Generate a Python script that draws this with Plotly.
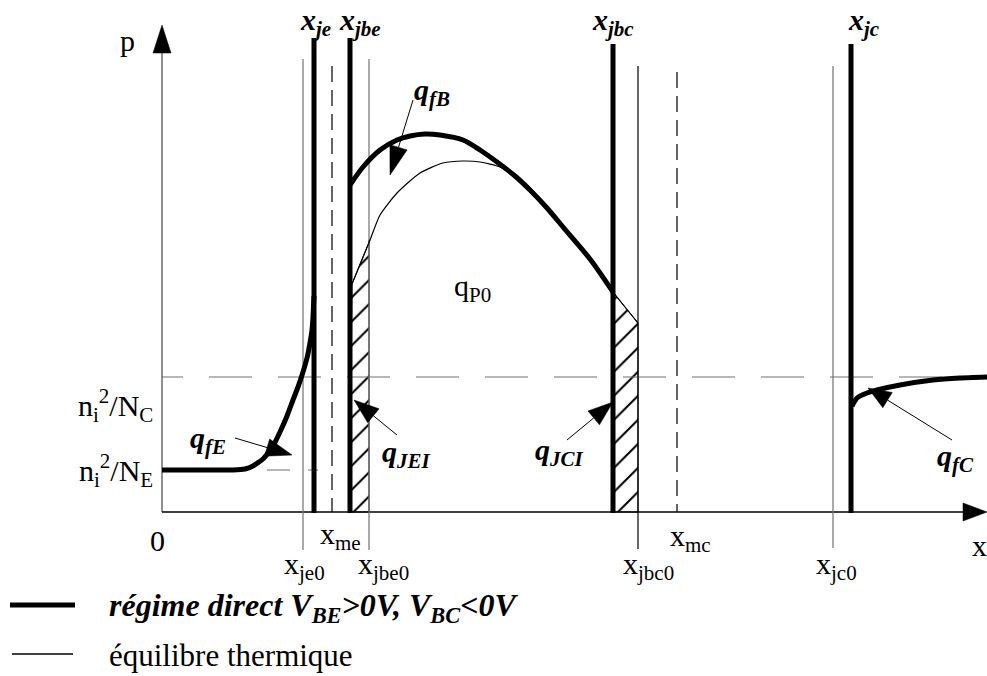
import numpy as np
import plotly.graph_objects as go

W, H = 987, 676
SERIF = "Liberation Serif"

# ---------------- data (schematic coordinates, picture units) ----------------
axis_origin = [162, 512]          # x of p-axis, y of x-axis
p_axis_top = 53
x_axis_end = 963
p_arrow_tip = [162, 25]
x_arrow_tip = [987, 512]

thick_x = [314, 350, 613, 851]     # x_je, x_jbe, x_jbc, x_jc
thick_top = [38, 38, 44, 44]
thin_x = [303, 369, 638, 833]      # x_je0, x_jbe0, x_jbc0, x_jc0
thin_top = [59, 59, 66, 66]
thin_bottom = [550, 550, 549, 548]
thin_gray = [True, True, False, True]
dash_x = [332, 677]                # x_me, x_mc
dash_top = [66, 72]

level_NC = 377
level_NE = 470
level_NE_x = [267, 318]

qfE_x = [162, 233, 245, 253, 263, 272, 280, 287, 293, 298, 303, 307, 310, 312, 313, 314]
qfE_y = [470, 470, 469, 466, 459, 448, 432, 416, 400, 387, 372, 358, 343, 330, 317, 296]

qfB_x = [350, 363, 380, 397, 410, 425, 440, 463, 480, 497, 515, 530, 547, 563, 590, 613]
qfB_y = [185, 167, 150, 140, 136, 134, 135, 140, 150, 162, 176, 190, 208, 227, 259, 292]

eq_x = [352, 361, 370, 380, 397, 420, 443, 463, 480, 500, 515, 530, 547, 563, 590, 613, 638]
eq_y = [284, 262, 240, 215, 193, 173, 163, 161, 162, 167, 177, 190, 208, 227, 259, 292, 323]

qfC_x = [852, 857, 867, 877, 900, 933, 960, 987]
qfC_y = [406, 398, 393, 390, 385, 380, 378, 377]

# arrows: tail, tip
arrow_tail = [(413, 100), (235, 438), (397, 435), (567, 440), (952, 440)]
arrow_tip = [(390, 175), (292, 455), (354, 400), (613, 402), (868, 388)]
arrow_len = [29, 26, 25, 25, 23]

# text labels
labels = [
    ("p", 127, 40),
    ("<b><i>x<sub>je</sub></i></b>", 315, 22),
    ("<b><i>x<sub>jbe</sub></i></b>", 360, 22),
    ("<b><i>x<sub>jbc</sub></i></b>", 613, 22),
    ("<b><i>x<sub>jc</sub></i></b>", 864, 22),
    ("<b><i>q<sub>fB</sub></i></b>", 432, 92),
    ("q<sub>P0</sub>", 472, 288),
    ("<b><i>q<sub>fE</sub></i></b>", 208, 440),
    ("<b><i>q<sub>JEI</sub></i></b>", 406, 454),
    ("<b><i>q<sub>JCI</sub></i></b>", 559, 452),
    ("<b><i>q<sub>fC</sub></i></b>", 955, 458),
    ("0", 157, 540),
    ("x<sub>me</sub>", 340, 536),
    ("x<sub>je0</sub>", 304, 566),
    ("x<sub>jbe0</sub>", 383, 566),
    ("x<sub>mc</sub>", 690, 538),
    ("x<sub>jbc0</sub>", 648, 566),
    ("x<sub>jc0</sub>", 836, 566),
    ("x", 979, 545),
]
left_labels = [("n<sub>i</sub><sup>2</sup>/N<sub>C</sub>", 155, 405),
               ("n<sub>i</sub><sup>2</sup>/N<sub>E</sub>", 155, 470)]

legend_text = ["<b><i>régime direct V<sub>BE</sub>&gt;0V, V<sub>BC</sub>&lt;0V</i></b>",
               "équilibre thermique"]
legend_y = [607, 655]
legend_x = [10, 75, 107]

# ---------------- figure ----------------
fig = go.Figure()


def line(xs, ys, width=1.0, color="black", dash="solid", shape="linear", smooth=0.6):
    ln = dict(width=width, color=color, dash=dash, shape=shape)
    if shape == "spline":
        ln["smoothing"] = smooth
    fig.add_trace(go.Scatter(x=xs, y=ys, mode="lines", hoverinfo="skip", line=ln))


def poly(xs, ys, color="black"):
    fig.add_trace(go.Scatter(x=list(xs) + [xs[0]], y=list(ys) + [ys[0]], mode="lines",
                             fill="toself", fillcolor=color, hoverinfo="skip",
                             line=dict(width=0.5, color=color)))


# hatched regions (q_JEI and q_JCI)
ex = np.array(eq_x); ey = np.array(eq_y)
m1 = ex <= 370
jei_x = [thick_x[1]] + list(ex[m1]) + [thin_x[1], thin_x[1]]
jei_y = [axis_origin[1]] + list(ey[m1]) + [ey[m1][-1], axis_origin[1]]
m2 = ex >= 613
jci_x = [thick_x[2]] + list(ex[m2]) + [thin_x[2]]
jci_y = [axis_origin[1]] + list(ey[m2]) + [axis_origin[1]]
for hx, hy in ((jei_x, jei_y), (jci_x, jci_y)):
    fig.add_trace(go.Scatter(x=hx + [hx[0]], y=hy + [hy[0]], mode="lines", fill="toself",
                             fillcolor="white", hoverinfo="skip",
                             fillpattern=dict(shape="/", size=17, solidity=0.12,
                                              fgcolor="black", bgcolor="white",
                                              fillmode="replace"),
                             line=dict(width=1, color="black")))

# horizontal dashed reference levels
hdash = "21px,26px" + ",43px,26px" * 14
line([axis_origin[0], W], [level_NC, level_NC], 1.2, "#707070", hdash)
line(level_NE_x, [level_NE, level_NE], 1.2, "#707070", "23px,18px")

# axes
line([axis_origin[0], axis_origin[0]], [p_axis_top, axis_origin[1]], 1.3, "#555555")
line([axis_origin[0], x_axis_end], [axis_origin[1], axis_origin[1]], 1.3, "black")
poly([p_arrow_tip[0], p_arrow_tip[0] - 9, p_arrow_tip[0] + 9],
     [p_arrow_tip[1], p_axis_top, p_axis_top])
poly([x_arrow_tip[0], x_axis_end, x_axis_end],
     [x_arrow_tip[1], x_arrow_tip[1] - 9, x_arrow_tip[1] + 9])

# thin boundaries
for x, t, b, g in zip(thin_x, thin_top, thin_bottom, thin_gray):
    line([x, x], [t, b], 1.2, "#707070" if g else "black")
# dashed metallurgical junctions
for x, t in zip(dash_x, dash_top):
    line([x, x], [t, axis_origin[1]], 1.2, "black", "16px,8px")

# equilibrium curve (thin)
line(eq_x, eq_y, 1.2, "black", shape="spline", smooth=0.6)

# thick junction boundaries
for x, t in zip(thick_x, thick_top):
    line([x, x], [t, axis_origin[1] + 1], 5, "black")

# forward-bias curves (thick)
line(qfE_x, qfE_y, 5, "black", shape="spline", smooth=0.4)
line(qfB_x, qfB_y, 5, "black", shape="spline", smooth=0.8)
line(qfC_x, qfC_y, 5, "black", shape="spline", smooth=0.5)

# annotation arrows
for (tx, ty), (px, py), L in zip(arrow_tail, arrow_tip, arrow_len):
    d = np.array([px - tx, py - ty], float)
    u = d / np.linalg.norm(d)
    n = np.array([-u[1], u[0]])
    bc = np.array([px, py]) - u * L
    c1 = bc + n * 9
    c2 = bc - n * 9
    line([tx, bc[0]], [ty, bc[1]], 1.0, "black")
    poly([px, c1[0], c2[0]], [py, c1[1], c2[1]])

# legend samples
line(legend_x[:2], [605, 605], 5, "black")
line([12, 73], [654, 654], 1.5, "black")

annotations = []
for txt, x, y in labels:
    annotations.append(dict(x=x, y=y, text=txt, showarrow=False, xanchor="center",
                            yanchor="middle", font=dict(family=SERIF, size=30, color="black")))
for txt, x, y in left_labels:
    annotations.append(dict(x=x, y=y, text=txt, showarrow=False, xanchor="right",
                            yanchor="middle", font=dict(family=SERIF, size=30, color="black")))
for txt, y, fs in zip(legend_text, legend_y, [32, 31]):
    annotations.append(dict(x=legend_x[2], y=y, text=txt, showarrow=False, xanchor="left",
                            yanchor="middle", font=dict(family=SERIF, size=fs, color="black")))

fig.update_layout(
    width=W, height=H, margin=dict(l=0, r=0, t=0, b=0),
    paper_bgcolor="white", plot_bgcolor="white", showlegend=False,
    font=dict(family=SERIF),
    xaxis=dict(range=[0, W], visible=False, fixedrange=True),
    yaxis=dict(range=[H, 0], visible=False, fixedrange=True),
    annotations=annotations,
)
fig.write_html("out.html", config={"displayModeBar": False})
